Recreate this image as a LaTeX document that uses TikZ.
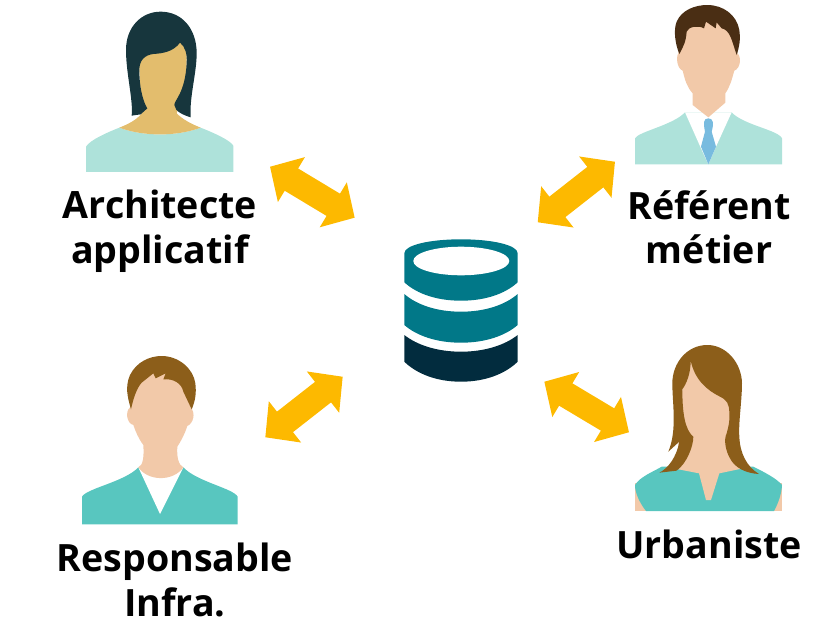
\documentclass[tikz,border=0pt]{standalone}
\usepackage{fontspec}
\setmainfont{Open Sans}
\usetikzlibrary{arrows.meta}

\definecolor{peau}{HTML}{F2C9A9}
\definecolor{peauOr}{HTML}{E3BD6D}
\definecolor{menthe}{HTML}{AEE2DA}
\definecolor{turquoise}{HTML}{58C6BF}
\definecolor{chatain}{HTML}{8C5E1A}
\definecolor{brun}{HTML}{4A2E14}
\definecolor{nuit}{HTML}{17363D}
\definecolor{cravate}{HTML}{78BBDF}
\definecolor{ambre}{HTML}{FDB900}
\definecolor{sarcelle}{HTML}{017888}
\definecolor{abysse}{HTML}{022C3E}

\begin{document}
\begin{tikzpicture}[x=1pt, y=-1pt]
    \tikzset{
        role/.style = {font=\fontsize{37.6}{44.5}\selectfont\bfseries, align=center, inner sep=0pt},
        echange/.style = {line width=26pt, draw=ambre, {Triangle[length=25pt, width=51pt, fill=ambre]}-{Triangle[length=25pt, width=51pt, fill=ambre]}},
        portrait/.style = {scale=1/3}
    }
    \useasboundingbox (0,0) rectangle (839,624);

    % Architecte applicatif
    \begin{scope}[shift={(70,0)}, portrait]
        \fill [menthe] (48,516) -- (48,440) .. controls (60,420) and (110,398) .. (148,383) .. controls (220,410) and (320,410) .. (392,383) .. controls (430,398) and (480,420) .. (490,437) -- (490,516) -- cycle;
        \fill [peauOr] (148,383) .. controls (175,372) and (200,360) .. (215,340) -- (205,150) -- (350,100) -- (350,240) -- (320,340) .. controls (340,360) and (365,372) .. (392,383) .. controls (320,410) and (220,410) .. (148,383) -- cycle;
        \fill [nuit] (185,347) .. controls (190,300) and (168,220) .. (168,150) .. controls (168,80) and (215,35) .. (272,35) .. controls (335,35) and (380,85) .. (380,160) .. controls (380,220) and (358,290) .. (362,352) .. controls (340,345) and (315,335) .. (313,315) .. controls (313,300) and (345,280) .. (350,190) .. controls (352,160) and (345,140) .. (330,128) .. controls (310,155) and (280,160) .. (250,162) .. controls (225,165) and (208,180) .. (208,210) .. controls (208,270) and (222,310) .. (232,325) -- (212,343) -- cycle;
    \end{scope}

    % Referent metier
    \begin{scope}[shift={(620,0)}, portrait]
        \fill [menthe] (45,493) -- (45,415) .. controls (55,395) and (160,375) .. (195,337) -- (335,337) .. controls (370,375) and (475,390) .. (486,415) -- (486,493) -- cycle;
        \fill [white] (195,337) -- (243,445) -- (265,493) -- (288,440) -- (335,337) -- cycle;
        \fill [peau] (218,315) -- (218,280) .. controls (200,260) and (195,240) .. (188,212) .. controls (170,205) and (168,170) .. (175,160) -- (190,60) -- (345,60) -- (352,160) .. controls (365,170) and (362,205) .. (343,212) .. controls (335,240) and (330,260) .. (316,280) -- (316,308) -- (265,352) -- cycle;
        \fill [brun] (178,162) .. controls (165,130) and (160,90) .. (170,65) .. controls (185,30) and (225,15) .. (262,15) .. controls (310,15) and (350,45) .. (358,90) .. controls (362,120) and (358,140) .. (350,165) .. controls (335,120) and (330,90) .. (305,85) -- (290,67) -- (287,85) -- (258,65) -- (252,85) .. controls (235,75) and (205,80) .. (200,95) .. controls (198,125) and (190,140) .. (178,162) -- cycle;
        \fill [cravate] (265,355) .. controls (250,355) and (250,370) .. (255,395) -- (243,440) -- (265,493) -- (288,440) -- (275,395) .. controls (282,370) and (280,355) .. (265,355) -- cycle;
    \end{scope}

    % Responsable infra
    \begin{scope}[shift={(70,350)}, portrait]
        \fill [turquoise] (36,523) -- (36,440) .. controls (50,415) and (165,395) .. (205,352) -- (340,352) .. controls (380,395) and (490,415) .. (503,440) -- (503,523) -- cycle;
        \fill [white] (205,352) -- (270,492) -- (340,352) -- cycle;
        \fill [peau] (205,352) .. controls (220,345) and (222,320) .. (220,285) .. controls (205,265) and (197,245) .. (190,225) .. controls (170,220) and (165,185) .. (180,172) -- (195,60) -- (350,60) -- (362,172) .. controls (378,190) and (370,220) .. (352,228) .. controls (345,250) and (335,270) .. (322,290) .. controls (320,320) and (325,345) .. (340,352) .. controls (310,395) and (235,395) .. (205,352) -- cycle;
        \fill [chatain] (183,178) .. controls (172,140) and (165,110) .. (180,75) .. controls (200,35) and (240,18) .. (275,18) .. controls (325,18) and (370,55) .. (376,100) .. controls (380,130) and (375,155) .. (365,178) -- (340,125) .. controls (335,100) and (310,85) .. (280,88) -- (287,70) -- (257,85) -- (250,70) -- (215,98) .. controls (200,115) and (190,145) .. (183,178) -- cycle;
    \end{scope}

    % Urbaniste
    \begin{scope}[shift={(620,340)}, portrait]
        \fill [peau] (45,430) -- (45,513) -- (486,513) -- (486,430) -- cycle;
        \fill [turquoise] (78,513) .. controls (60,490) and (45,460) .. (45,435) .. controls (60,410) and (100,395) .. (125,380) -- (400,380) .. controls (430,395) and (470,415) .. (486,435) .. controls (485,460) and (475,490) .. (462,513) -- cycle;
        \fill [peau] (170,387) -- (237,400) -- (258,480) -- (273,480) -- (298,400) -- (360,387) -- (335,200) -- (212,62) -- (187,148) -- cycle;
        \fill [chatain] (118,398) .. controls (145,385) and (170,350) .. (178,305) -- (145,335) .. controls (172,270) and (157,190) .. (157,130) .. controls (157,70) and (200,15) .. (262,15) .. controls (320,15) and (365,70) .. (366,130) .. controls (366,180) and (355,250) .. (358,290) .. controls (360,340) and (380,380) .. (417,402) .. controls (380,400) and (345,385) .. (330,355) .. controls (318,335) and (310,300) .. (320,280) .. controls (325,260) and (330,245) .. (328,220) .. controls (328,190) and (320,180) .. (300,170) .. controls (260,150) and (225,120) .. (212,62) .. controls (212,100) and (200,130) .. (187,148) .. controls (187,220) and (195,270) .. (220,290) .. controls (220,320) and (200,370) .. (170,392) -- cycle;
    \end{scope}

    % Base de donnees
    \fill [sarcelle] (404.3,253.3) .. controls (404.3,245) and (430,239.3) .. (461,239.3) .. controls (492,239.3) and (517.7,245) .. (517.7,253.3) -- (517.7,282.3) .. controls (505,294) and (485,300.7) .. (461,300.7) .. controls (437,300.7) and (417,294) .. (404.3,282.3) -- cycle;
    \fill [white] (413.3,261) .. controls (413.3,253) and (435,246.7) .. (461,246.7) .. controls (487,246.7) and (509.3,253) .. (509.3,261) .. controls (509.3,269) and (487,275.3) .. (461,275.3) .. controls (435,275.3) and (413.3,269) .. (413.3,261) -- cycle;
    \fill [sarcelle] (404.3,294) .. controls (417,305) and (437,311.7) .. (461,311.7) .. controls (485,311.7) and (505,305) .. (517.7,294) -- (517.7,325) .. controls (505,336) and (485,342.7) .. (461,342.7) .. controls (437,342.7) and (417,336) .. (404.3,325) -- cycle;
    \fill [abysse] (404.3,335) .. controls (417,345) and (437,351.7) .. (461,351.7) .. controls (485,351.7) and (505,345) .. (517.7,335) -- (517.7,361.7) .. controls (505,374) and (485,381.7) .. (461,381.7) .. controls (437,381.7) and (417,374) .. (404.3,361.7) -- cycle;

    % Libelles
    \node [role] (architecte) at (160,231) {Architecte\\applicatif};
    \node [role] (referent) at (709,227.5) {Référent\\métier};
    \node [role] (responsable) at (175,580) {Responsable\\Infra.};
    \node [role] (urbaniste) at (709,544) {Urbaniste};

    % Extremites des fleches
    \coordinate (archiBout) at (270,166.7);
    \coordinate (archiBase) at (354.7,217.7);
    \coordinate (metierBout) at (615,161.7);
    \coordinate (metierBase) at (537.7,222.3);
    \coordinate (infraBout) at (265.3,437.3);
    \coordinate (infraBase) at (342.7,376.7);
    \coordinate (urbaBout) at (629,432.3);
    \coordinate (urbaBase) at (544.3,381.7);

    % Connexions
    \draw [echange] (archiBout) -- (archiBase);
    \draw [echange] (metierBout) -- (metierBase);
    \draw [echange] (infraBout) -- (infraBase);
    \draw [echange] (urbaBout) -- (urbaBase);
\end{tikzpicture}
\end{document}
